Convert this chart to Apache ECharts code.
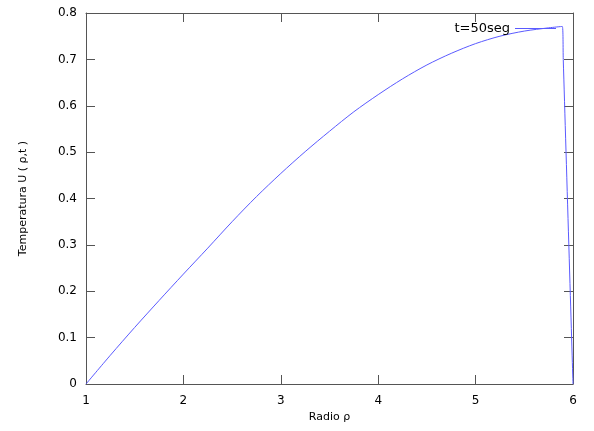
<!DOCTYPE html>
<html>
<head>
<meta charset="utf-8">
<script src="https://cdn.jsdelivr.net/npm/echarts@6/dist/echarts.min.js"></script>
<style>html,body{margin:0;padding:0;background:#fff}#c{width:594px;height:431px}</style>
</head>
<body>
<div id="c"></div>
<script>
const rho = [1, 1.25, 1.5, 1.75, 2.0, 2.25, 2.5, 2.75, 3.0, 3.25, 3.5, 3.75, 4.0, 4.25, 4.5, 4.75, 5.0, 5.25, 5.5, 5.75, 5.89, 5.9, 6.0];
const temp = [0, 0.062, 0.122, 0.180, 0.237, 0.293, 0.350, 0.404, 0.454, 0.501, 0.545, 0.587, 0.624, 0.658, 0.688, 0.713, 0.734, 0.750, 0.761, 0.768, 0.771, 0.70, 0];
const seriesName = 't=50seg';
const xTitle = 'Radio ρ';
const yTitle = 'Temperatura U ( ρ,t )';

const axisCol = '#555';
const font = 'DejaVu Sans';
const chart = echarts.init(document.getElementById('c'), null, {renderer: 'canvas'});
const data = rho.map((r, i) => [r, temp[i]]);
chart.setOption({
  animation: false,
  backgroundColor: '#fff',
  grid: {left: 86, right: 21, top: 13, bottom: 47},
  legend: {
    data: [{name: seriesName, icon: 'rect'}],
    right: 33, top: 17, align: 'right',
    itemWidth: 41, itemHeight: 1, itemGap: 0,
    textStyle: {fontFamily: font, fontSize: 13, color: '#000'}
  },
  xAxis: [{
    type: 'value', min: 1, max: 6, interval: 1,
    name: xTitle, nameLocation: 'middle', nameGap: 23,
    nameTextStyle: {fontFamily: font, fontSize: 11, color: '#000'},
    axisLine: {show: true, lineStyle: {color: axisCol}},
    axisTick: {show: true, inside: true, length: 9, lineStyle: {color: axisCol}},
    axisLabel: {fontFamily: font, fontSize: 12, color: '#000', margin: 11},
    splitLine: {show: false}
  }, {
    type: 'value', min: 1, max: 6, interval: 1, position: 'top',
    axisLine: {show: true, onZero: false, lineStyle: {color: axisCol}},
    axisTick: {show: true, inside: true, length: 9, lineStyle: {color: axisCol}},
    axisLabel: {show: false}, splitLine: {show: false}
  }],
  yAxis: [{
    type: 'value', min: 0, max: 0.8, interval: 0.1,
    name: yTitle, nameLocation: 'middle', nameGap: 57,
    nameTextStyle: {fontFamily: font, fontSize: 11, color: '#000'},
    axisLine: {show: true, lineStyle: {color: axisCol}},
    axisTick: {show: true, inside: true, length: 9, lineStyle: {color: axisCol}},
    axisLabel: {fontFamily: font, fontSize: 12, color: '#000', margin: 9,
      formatter: v => (Math.round(v * 10) / 10).toString()},
    splitLine: {show: false}
  }, {
    type: 'value', min: 0, max: 0.8, interval: 0.1, position: 'right',
    axisLine: {show: true, onZero: false, lineStyle: {color: axisCol}},
    axisTick: {show: true, inside: true, length: 9, lineStyle: {color: axisCol}},
    axisLabel: {show: false}, splitLine: {show: false}
  }],
  series: [{
    name: seriesName, type: 'line', data: data,
    showSymbol: false, symbol: 'none', smooth: 0.3,
    lineStyle: {color: '#5a5aff', width: 1},
    itemStyle: {color: '#5a5aff'}
  }]
});
</script>
</body>
</html>
